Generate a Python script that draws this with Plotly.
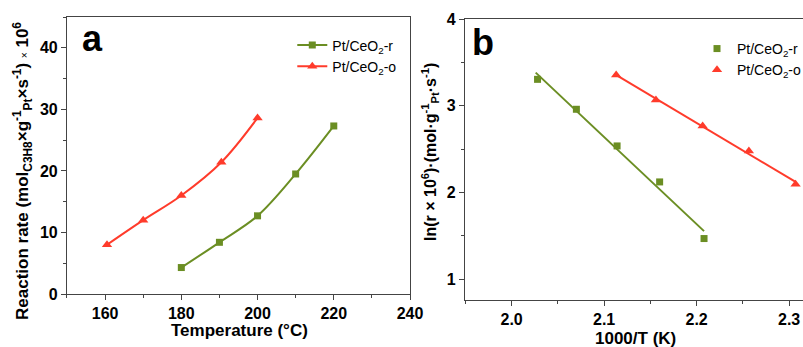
import numpy as np
import plotly.graph_objects as go

# Panel a data
temp_r = [180, 190, 200, 210, 220]
rate_r = [4.3, 8.4, 12.7, 19.5, 27.3]
temp_o = [160.5, 170, 180, 190.5, 200]
rate_o = [8.0, 12.0, 16.0, 21.4, 28.6]

# Panel b data
invT_r = [2.028, 2.070, 2.114, 2.160, 2.208]
lnr_r = [3.305, 2.960, 2.537, 2.122, 1.469]
invT_o = [2.113, 2.156, 2.2065, 2.2565, 2.307]
lnr_o = [3.355, 3.067, 2.767, 2.479, 2.096]

GREEN = "#6b8e23"
RED = "#ff3b2b"
FONT = "Liberation Sans"
AX = "#444444"

names = ["Pt/CeO<sub>2</sub>-r", "Pt/CeO<sub>2</sub>-o"]

fig = go.Figure()

fig.add_trace(go.Scatter(x=temp_r, y=rate_r, mode="lines+markers", name=names[0],
                         line=dict(color=GREEN, width=2, shape="spline"),
                         marker=dict(symbol="square", size=7, color=GREEN),
                         xaxis="x", yaxis="y", legend="legend"))
fig.add_trace(go.Scatter(x=temp_o, y=rate_o, mode="lines+markers", name=names[1],
                         line=dict(color=RED, width=2, shape="spline"),
                         marker=dict(symbol="triangle-up", size=9, color=RED),
                         xaxis="x", yaxis="y", legend="legend"))

def fit(xs, ys):
    k, b = np.polyfit(xs, ys, 1)
    xx = np.array([min(xs) - 0.002, max(xs)])
    return xx, k * xx + b

fx, fy = fit(invT_r, lnr_r)
fig.add_trace(go.Scatter(x=fx, y=fy, mode="lines", line=dict(color=GREEN, width=2),
                         showlegend=False, xaxis="x2", yaxis="y2"))
fx, fy = fit(invT_o, lnr_o)
fig.add_trace(go.Scatter(x=fx, y=fy, mode="lines", line=dict(color=RED, width=2),
                         showlegend=False, xaxis="x2", yaxis="y2"))
fig.add_trace(go.Scatter(x=invT_r, y=lnr_r, mode="markers", name=names[0],
                         marker=dict(symbol="square", size=7, color=GREEN),
                         xaxis="x2", yaxis="y2", legend="legend2"))
fig.add_trace(go.Scatter(x=invT_o, y=lnr_o, mode="markers", name=names[1],
                         marker=dict(symbol="triangle-up", size=9, color=RED),
                         xaxis="x2", yaxis="y2", legend="legend2"))

tickfont = dict(family=FONT, size=16, color="black", weight="bold")
common = dict(showline=True, linecolor=AX, linewidth=1, mirror=True,
              ticks="outside", ticklen=5, tickcolor=AX, tickwidth=1,
              showgrid=False, zeroline=False, tickfont=tickfont, automargin=False)

fig.update_layout(
    width=803, height=347,
    margin=dict(l=0, r=0, t=0, b=0, autoexpand=False),
    paper_bgcolor="white", plot_bgcolor="white",
    font=dict(family=FONT, color="black"),
    xaxis=dict(domain=[0.0834, 0.5106], range=[150, 240], dtick=20, anchor="y",
               minor=dict(dtick=10, ticks="outside", ticklen=3, tickcolor=AX), **common),
    yaxis=dict(domain=[0.1527, 0.951], range=[0, 45], dtick=10, anchor="x",
               minor=dict(dtick=5, ticks="outside", ticklen=3, tickcolor=AX), **common),
    xaxis2=dict(domain=[0.579, 1.0], range=[1.9495, 2.315], dtick=0.1, tick0=2.0, anchor="y2",
                tickformat=".1f",
                minor=dict(dtick=0.05, ticks="outside", ticklen=3, tickcolor=AX), **common),
    yaxis2=dict(domain=[0.1354, 0.945], range=[0.76, 4], dtick=1, anchor="x2",
                minor=dict(dtick=0.5, ticks="outside", ticklen=3, tickcolor=AX), **common),
    legend=dict(x=0.364, y=0.915, xanchor="left", yanchor="top", bgcolor="rgba(0,0,0,0)",
                font=dict(family=FONT, size=14, color="black"), tracegroupgap=0,
                itemwidth=30),
    legend2=dict(x=0.868, y=0.905, xanchor="left", yanchor="top", bgcolor="rgba(0,0,0,0)",
                 font=dict(family=FONT, size=14, color="black"), tracegroupgap=0,
                 itemwidth=30),
)

def A(text, x, y, size, angle=0):
    return dict(text=text, x=x / 803, y=1 - y / 347, xref="paper", yref="paper",
                xanchor="center", yanchor="middle", textangle=angle, showarrow=False,
                font=dict(family=FONT, size=size, color="black", weight="bold"))

ann = [
    A("a", 92, 38, 36),
    A("b", 483, 42, 36),
    A("Temperature (°C)", 240, 330, 17),
    A("1000/T (K)", 635, 338, 17),
    A("Reaction rate (mol<sub>C3H8</sub>×g<sup>-1</sup><sub>Pt</sub>×s<sup>-1</sup>)"
      " <span style='font-weight:normal;font-size:10px'>×</span> 10<sup>6</sup>", 22, 171, 17, -90),
    A("ln(r × 10<sup>6</sup>)·(mol·g<sup>-1</sup><sub>Pt</sub>·s<sup>-1</sup>)", 430, 152, 16, -90),
]
fig.update_layout(annotations=ann)

fig.write_html("out.html", config={"displayModeBar": False},
               post_script="document.body.style.margin='0';document.body.style.overflow='hidden';")
